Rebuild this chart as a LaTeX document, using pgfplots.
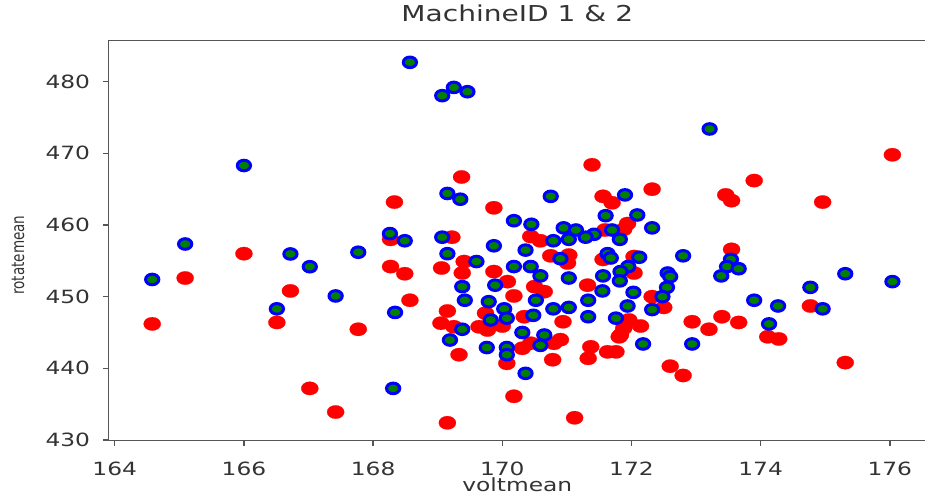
\documentclass[border=0pt]{standalone}
\usepackage{fontspec}
\setmainfont{DejaVu Sans}[FakeStretch=1.28]
\newfontfamily\ylabfont{DejaVu Sans}
\usepackage{pgfplots}
\pgfplotsset{compat=1.18}
\definecolor{mplgreen}{HTML}{008000}
\definecolor{mplblue}{HTML}{0000FF}
\definecolor{mplred}{HTML}{FF0000}
\definecolor{spine}{HTML}{555555}
\definecolor{labtext}{HTML}{333333}

% Machine 1 (red) and machine 2 (green) means per record
\pgfplotstableread{
x y
168.33 463.2
168.27 458.0
166.00 456.0
168.27 454.2
168.49 453.2
168.57 449.5
165.09 452.6
166.72 450.8
166.51 446.4
164.58 446.2
167.77 445.45
167.02 437.2
167.42 433.9
176.04 469.8
173.90 466.2
173.46 464.2
173.55 463.4
174.96 463.2
173.55 456.6
174.77 448.7
172.94 446.5
173.40 447.2
173.20 445.45
173.66 446.4
174.11 444.4
174.28 444.1
175.31 440.8
172.80 439.0
171.39 468.4
169.37 466.7
172.32 465.0
169.87 462.4
171.56 464.0
171.70 463.1
171.94 460.2
171.88 459.4
171.59 459.3
170.44 458.4
170.59 457.8
169.22 458.3
169.06 454.0
169.41 454.9
169.38 453.3
169.87 453.5
170.08 452.1
170.18 450.1
170.50 451.4
170.65 450.7
170.75 455.7
171.03 455.8
171.01 454.7
171.32 451.6
171.56 455.2
172.04 455.6
172.04 453.3
172.32 450.0
172.50 448.5
169.15 448.0
169.05 446.3
169.25 445.8
169.64 445.8
169.77 445.35
170.00 445.9
170.34 447.2
170.44 443.5
170.31 442.8
170.80 443.5
170.90 444.0
170.94 446.5
171.37 443.0
171.33 441.4
171.63 442.3
171.76 442.3
171.83 444.65
171.88 445.6
171.96 446.75
172.14 445.9
169.33 441.9
170.07 440.7
170.78 441.2
172.60 440.3
170.18 436.1
171.12 433.1
169.15 432.4
169.74 447.7
171.81 444.4
}\machineone

\pgfplotstableread{
x y
168.57 482.7
166.00 468.3
168.26 458.8
168.49 457.8
165.09 457.35
166.72 455.96
167.02 454.18
167.77 456.2
164.58 452.4
167.42 450.1
166.51 448.3
168.34 447.8
168.31 437.2
173.21 473.4
173.54 455.2
173.48 454.2
173.66 453.9
173.39 452.9
172.80 455.7
175.31 453.2
176.04 452.1
174.77 451.3
173.90 449.5
174.27 448.7
174.96 448.3
174.13 446.2
172.94 443.4
169.07 478.05
169.25 479.2
169.46 478.6
169.15 464.4
169.35 463.6
170.75 464.0
171.90 464.2
171.60 461.3
172.09 461.4
171.70 459.3
171.82 458.0
172.32 459.6
170.18 460.6
170.45 460.1
170.95 459.6
171.14 459.3
171.42 458.7
171.29 458.3
171.03 458.0
170.79 457.8
169.07 458.3
169.87 457.1
170.36 456.5
169.15 456.0
169.60 454.9
170.90 455.3
171.63 456.0
171.68 455.4
172.12 455.5
170.18 454.2
170.44 454.2
170.59 452.9
171.03 452.6
171.95 454.2
171.83 453.5
171.56 452.9
171.82 452.2
172.56 453.3
172.60 452.8
172.55 451.3
169.38 451.4
169.89 451.6
171.55 450.8
172.03 450.6
172.48 450.0
169.42 449.5
169.79 449.3
170.52 449.5
171.33 449.5
171.94 448.7
170.03 448.3
170.79 448.3
171.03 448.5
172.32 448.2
169.82 446.75
170.07 447.0
170.48 447.4
171.33 447.2
171.76 447.0
169.38 445.45
170.31 445.0
170.65 444.65
169.19 443.95
169.76 442.9
170.07 442.9
170.59 443.2
170.07 441.9
172.18 443.4
170.36 439.3
}\machinetwo

\begin{document}
\begin{tikzpicture}
\useasboundingbox (-108.3bp,-56.3bp) rectangle (816.7bp,440.7bp);
\begin{axis}[
  at={(0,0)}, anchor=south west,
  scale only axis, width=818bp, height=400bp,
  xmin=163.90, xmax=176.565, ymin=429.9, ymax=485.72,
  xtick={164,166,...,176}, ytick={430,440,...,480},
  tick align=outside, xtick pos=bottom, ytick pos=left,
  major tick length=5bp,
  axis line style={spine, line width=1.4bp},
  tick style={spine, line width=1.4bp},
  /pgf/number format/assume math mode=true,
  /pgf/number format/1000 sep={},
  tick label style={font=\fontsize{18.3}{20}\selectfont, text=labtext},
  xticklabel style={anchor=base, yshift=-29.3bp},
  yticklabel style={anchor=east, inner sep=0pt, xshift=-13bp},
  title={MachineID 1 \& 2},
  title style={font=\fontsize{22}{26}\selectfont, text=labtext,
    at={(0.5,1)}, anchor=base, yshift=13bp},
  xlabel={voltmean},
  xlabel style={font=\fontsize{18.3}{20}\selectfont, text=labtext,
    at={(0.5,0)}, anchor=base, yshift=-51bp},
  ylabel={rotatemean},
  ylabel style={font=\ylabfont\fontsize{13.6}{16}\selectfont, text=labtext,
    at={(axis description cs:-0.1104,0.464)}, anchor=center, yscale=1.3},
]
\addplot[only marks, color=mplred, mark=*, mark size=6.7bp,
  mark options={draw=mplred, fill=mplred, line width=0.2bp, xscale=1.28}]
  table[x=x, y=y] {\machineone};
\addplot[only marks, color=mplblue, mark=*, mark size=5.3bp,
  mark options={draw=mplblue, line width=3bp, fill=mplgreen, xscale=1.25}]
  table[x=x, y=y] {\machinetwo};
\end{axis}
\end{tikzpicture}
\end{document}
